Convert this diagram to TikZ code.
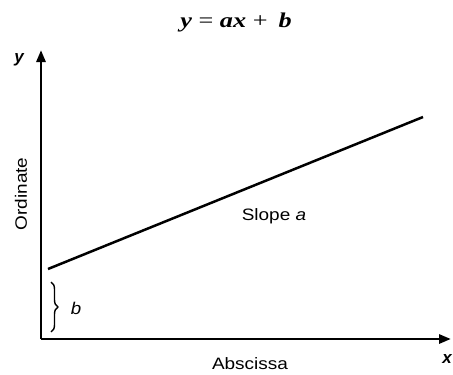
\documentclass[tikz,border=0pt]{standalone}
\usepackage{fontspec}
\setmainfont{Liberation Serif}
\setsansfont{Liberation Sans}
\usetikzlibrary{arrows.meta,decorations.pathreplacing}
\tikzset{
  axis/.style={line width=2.8pt,-{Triangle[width=9pt,length=12pt]}},
  graphline/.style={line width=2.5pt},
  lbl/.style={font=\sffamily\fontsize{16.5}{16.5}\selectfont,inner sep=0pt},
  axlbl/.style={font=\sffamily\bfseries\itshape\fontsize{17}{17}\selectfont,inner sep=0pt},
}
\begin{document}
\begin{tikzpicture}[x=1pt,y=-1pt]
\useasboundingbox (0,0) rectangle (453,375);
% title
\node[inner sep=0pt,font=\rmfamily\fontsize{21}{21}\selectfont] (title) at (236,22)
  {\scalebox{1.25}[1]{\textbf{\textit{y}} = \textbf{\textit{ax}} + \,\textbf{\textit{b}}}};
% axes
\coordinate (O) at (41,339);
\coordinate (ytip) at (41,50);
\coordinate (xtip) at (451,339);
\draw[axis] (O) -- (ytip);
\draw[axis] (O) -- (xtip);
\node[axlbl] (ylab) at (19,60) {y};
\node[axlbl] (xlab) at (447,359) {x};
% line
\coordinate (L1) at (48,269);
\coordinate (L2) at (423,117);
\draw[graphline] (L1) -- (L2);
% labels
\node[lbl] (slope) at (274,216) {\scalebox{1.15}[1]{Slope \textit{a}}};
\node[lbl,rotate=90] (ord) at (21,194) {\scalebox{1.15}[1]{Ordinate}};
\node[lbl] (absc) at (250,364) {\scalebox{1.15}[1]{Abscissa}};
% brace
\coordinate (B1) at (51,282);
\coordinate (B2) at (51,332);
\draw[line width=1.4pt,decorate,decoration={brace,amplitude=7pt}] (B1) -- (B2);
\node[lbl,font=\sffamily\itshape\fontsize{17}{17}\selectfont] (blab) at (76,308) {\scalebox{1.1}[1]{b}};
\end{tikzpicture}
\end{document}
